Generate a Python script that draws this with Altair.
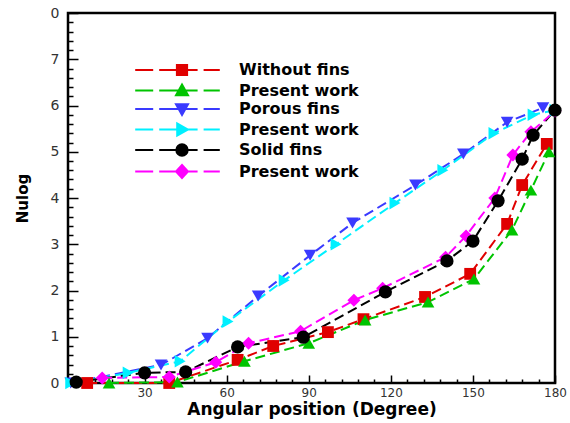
import altair as alt
import pandas as pd

# ---- data ----
names = ["Without fins", "Present work", "Porous fins", "Present work ", "Solid fins", "Present work  "]
colors = ["#e00000", "#00c400", "#3a3aff", "#00f0ff", "#000000", "#ff00ff"]
shapes = ["square", "triangle-up", "triangle-down", "triangle-right", "circle", "diamond"]
sizes = [140, 160, 160, 160, 175, 170]

deg_without = [9, 39, 64, 77, 97, 110, 132.5, 149, 162.5, 168, 177]
nu_without = [0, 0, 0.5, 0.8, 1.1, 1.38, 1.86, 2.36, 3.44, 4.28, 5.17]

deg_pw1 = [17, 42, 66.5, 90, 110.6, 133.6, 150.4, 164.3, 171.2, 177.8]
nu_pw1 = [0, 0.02, 0.47, 0.86, 1.36, 1.75, 2.25, 3.31, 4.17, 5.0]

deg_porous = [3, 36, 53, 71.5, 90.5, 106, 129, 146.5, 162.5, 175.6]
nu_porous = [0, 0.39, 0.97, 1.88, 2.76, 3.46, 4.28, 4.95, 5.64, 5.95]

deg_pw2 = [3, 24, 43, 60.5, 81, 100, 121.5, 139, 157.7, 172, 180]
nu_pw2 = [0, 0.22, 0.47, 1.33, 2.22, 3.0, 3.89, 4.6, 5.4, 5.8, 5.9]

deg_solid = [5, 30, 45, 64, 88, 118, 140.5, 150, 159.2, 168, 172, 180]
nu_solid = [0.02, 0.22, 0.24, 0.78, 0.99, 1.97, 2.64, 3.07, 3.94, 4.84, 5.36, 5.9]

deg_pw3 = [14.5, 39, 56, 68, 87, 106.5, 117, 140, 147.5, 158, 164.6, 171.2, 180]
nu_pw3 = [0.11, 0.13, 0.45, 0.86, 1.12, 1.79, 2.05, 2.72, 3.18, 4.0, 4.93, 5.43, 5.88]

x_tick_values = list(range(6, 181, 6))
y_tick_values = [round(i * 0.2, 1) for i in range(0, 41)]

# legend symbols: dashed line with the marker in the middle (unit coordinates)
leg_line = "M-7.8,0H-4.8M-3.8,0H2.6M3.6,0H6.3"
leg_markers = [
    "M-0.85,-0.85H0.85V0.85H-0.85Z",
    "M0,-1L1,0.8H-1Z",
    "M0,1L1,-0.8H-1Z",
    "M1,0L-0.8,-1V1Z",
    "M-0.95,0A0.95,0.95,0,1,1,0.95,0A0.95,0.95,0,1,1,-0.95,0Z",
    "M0,-1.1L1,0L0,1.1L-1,0Z",
]
leg_paths = [leg_line + m for m in leg_markers]

all_deg = [deg_without, deg_pw1, deg_porous, deg_pw2, deg_solid, deg_pw3]
all_nu = [nu_without, nu_pw1, nu_porous, nu_pw2, nu_solid, nu_pw3]

rows = []
for name, xs, ys in zip(names, all_deg, all_nu):
    for xv, yv in zip(xs, ys):
        rows.append({"series": name, "deg": xv, "nu": yv})
df = pd.DataFrame(rows)

# ---- scales & axes ----
xscale = alt.Scale(domain=[2, 180], nice=False, zero=False)
yscale = alt.Scale(domain=[0, 8], nice=False, zero=False)
color_scale = alt.Scale(domain=names, range=colors)

FONT = "DejaVu Sans"

xaxis = alt.Axis(
    values=x_tick_values, offset=-8, tickSize=8, domain=False, grid=False,
    tickColor="black", tickWidth=1.5,
    tickDash={"condition": {"test": "datum.value % 30 != 0", "value": [0, 4, 4]}, "value": [1, 0]},
    labelExpr="datum.value % 30 == 0 ? format(datum.value, 'd') : ''",
    labelFont=FONT, labelFontSize=12, labelColor="#333", labelPadding=4,
    labelFlush=False, labelOverlap=False,
    title="Angular position  (Degree)", titleFont=FONT, titleFontSize=17,
    titleFontWeight="bold", titleColor="black", titlePadding=3,
)
yaxis = alt.Axis(
    values=y_tick_values, offset=-10, tickSize=10, domain=False, grid=False,
    tickColor="black", tickWidth=1.5,
    tickDash={"condition": {"test": "datum.value % 1 != 0", "value": [0, 5, 5]}, "value": [1, 0]},
    labelExpr="datum.value % 1 == 0 ? (datum.value == 8 ? '0' : format(datum.value, 'd')) : ''",
    labelFont=FONT, labelFontSize=14, labelColor="#333", labelPadding=9,
    labelFlush=False, labelOverlap=False,
    title="Nulog", titleFont=FONT, titleFontSize=15, titleFontWeight="bold",
    titleColor="black", titlePadding=20,
)

X = alt.X("deg:Q", scale=xscale, axis=xaxis)
Y = alt.Y("nu:Q", scale=yscale, axis=yaxis)

base = alt.Chart(df)

line_layers = []
point_layers = []
for name, col, shp, sz in zip(names, colors, shapes, sizes):
    sub = base.transform_filter(alt.datum.series == name)
    line_layers.append(
        sub.mark_line(strokeWidth=2, strokeDash=[10, 5], color=col, clip=False)
        .encode(x=X, y=Y)
    )
    point_layers.append(
        sub.mark_point(shape=shp, filled=True, size=sz, opacity=1, color=col, clip=False)
        .encode(x=X, y=Y)
    )

leg = alt.Legend(
    orient="none", legendX=106, legendY=49, title=None, padding=0,
    labelOffset=49, rowPadding=0.5, labelFont=FONT, labelFontSize=16,
    labelFontWeight="bold", labelColor="black", labelLimit=400,
    symbolSize=144, symbolStrokeWidth=2, symbolOpacity=1,
)
legend_layer = base.transform_filter("false").mark_point(
    filled=True, size=144, strokeWidth=2, opacity=1
).encode(
    x=X, y=Y,
    color=alt.Color("series:N", scale=color_scale, legend=leg),
    stroke=alt.Stroke("series:N", scale=color_scale, legend=leg),
    shape=alt.Shape("series:N", scale=alt.Scale(domain=names, range=leg_paths), legend=leg),
)

order = [0, 1, 2, 3, 5, 4]
chart = alt.layer(
    *line_layers, *[point_layers[i] for i in order], legend_layer
).properties(
    width=487, height=370,
    padding={"left": 68, "top": 13, "right": 15, "bottom": 40},
    autosize="none",
).configure(
    background="white",
    view=alt.ViewConfig(stroke="black", strokeWidth=2.5),
)

chart.save("out.html", embed_options={"renderer": "svg", "actions": False})
